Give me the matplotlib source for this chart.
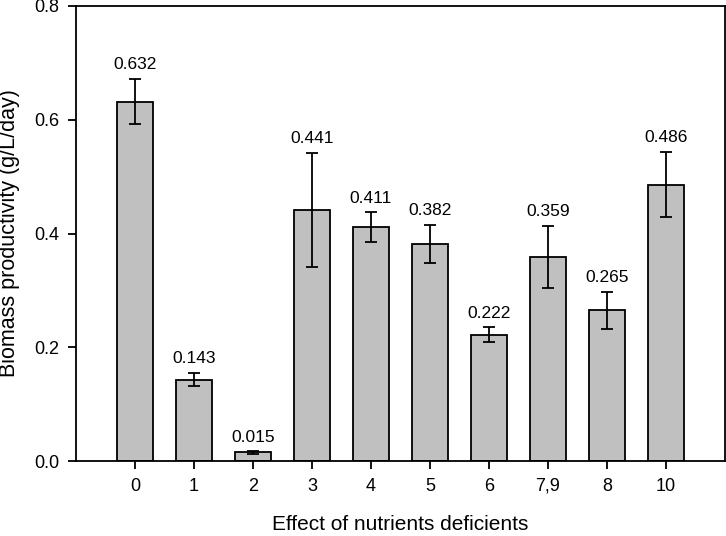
import matplotlib
matplotlib.use("Agg")
import matplotlib.pyplot as plt
import numpy as np

categories = ["0", "1", "2", "3", "4", "5", "6", "7,9", "8", "10"]
values = [0.632, 0.143, 0.015, 0.441, 0.411, 0.382, 0.222, 0.359, 0.265, 0.486]
errors = [0.040, 0.012, 0.002, 0.100, 0.026, 0.033, 0.013, 0.054, 0.033, 0.057]
value_labels = ["0.632", "0.143", "0.015", "0.441", "0.411", "0.382", "0.222", "0.359", "0.265", "0.486"]
y_ticks = [0.0, 0.2, 0.4, 0.6, 0.8]
y_ticklabels = ["0.0", "0.2", "0.4", "0.6", "0.8"]

plt.rcParams['font.family'] = ['Liberation Sans', 'DejaVu Sans']

fig = plt.figure(figsize=(7.26, 5.36), dpi=100)
ax = fig.add_axes([76/726, 1-461/536, (725-76)/726, (461-6)/536])

x = np.arange(len(categories))
ax.bar(x, values, width=0.6, color="#c0c0c0", edgecolor="black", linewidth=1.3, zorder=2)
ax.errorbar(x, values, yerr=errors, fmt="none", ecolor="black", elinewidth=1.3,
            capsize=4.6, capthick=1.3, zorder=3)
for xi, v, e, lab in zip(x, values, errors, value_labels):
    ax.text(xi, v + e + 0.012, lab, ha="center", va="bottom", fontsize=12.5)

ax.set_xlim(-1, 10)
ax.set_ylim(0, 0.8)
ax.set_xticks(x)
ax.set_xticklabels(categories, fontsize=13)
ax.set_yticks(y_ticks)
ax.set_yticklabels(y_ticklabels, fontsize=13)
ax.tick_params(direction="out", length=6, width=1.3, pad=6)
for s in ax.spines.values():
    s.set_linewidth(1.3)
ax.set_xlabel("Effect of nutrients deficients", fontsize=15, labelpad=15)
ax.set_ylabel("Biomass productivity (g/L/day)", fontsize=15.5, labelpad=10)

fig.savefig("out.png", dpi=100)
